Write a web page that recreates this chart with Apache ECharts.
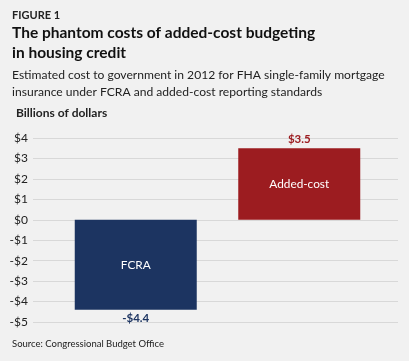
<!DOCTYPE html>
<html><head><meta charset="utf-8">
<script src="https://cdn.jsdelivr.net/npm/echarts@6/dist/echarts.min.js"></script>
<style>html,body{margin:0;padding:0;background:#f1f1f1;}#c{width:409px;height:361px;}</style>
</head><body><div id="c"></div>
<script>
var categories = ['FCRA', 'Added-cost'];
var values = [-4.4, 3.5];
var valueLabels = ['-$4.4', '$3.5'];
var barColors = ['#1c3461', '#9c1c20'];
var yTicks = [-5, -4, -3, -2, -1, 0, 1, 2, 3, 4];

var FONT = 'Lato';
var chart = echarts.init(document.getElementById('c'));
function fmt(v){ return v < 0 ? '-$' + Math.abs(v) : '$' + v; }
chart.setOption({
  backgroundColor: '#f1f1f1',
  animation: false,
  textStyle: { fontFamily: FONT },
  title: [
    { text: 'FIGURE 1', left: 12, top: 10, padding: 0, textStyle: { fontFamily: FONT, fontSize: 11, fontWeight: 'bold', color: '#222' } },
    { text: 'The phantom costs of added-cost budgeting\nin housing credit', left: 12, top: 23, padding: 0,
      textStyle: { fontFamily: FONT, fontSize: 15.5, fontWeight: 'bold', color: '#111', lineHeight: 20 } },
    { text: 'Estimated cost to government in 2012 for FHA single-family mortgage\ninsurance under FCRA and added-cost reporting standards', left: 12, top: 67, padding: 0,
      textStyle: { fontFamily: FONT, fontSize: 12.1, fontWeight: 'normal', color: '#222', lineHeight: 16.5 } },
    { text: 'Billions of dollars', left: 16, top: 107, padding: 0, textStyle: { fontFamily: FONT, fontSize: 12, fontWeight: 'bold', color: '#222' } },
    { text: 'Source: Congressional Budget Office', left: 12, top: 339, padding: 0, textStyle: { fontFamily: FONT, fontSize: 9.5, fontWeight: 'normal', color: '#222' } }
  ],
  grid: [
    { left: 33, right: 11, top: 138, bottom: 39 },
    { left: 54, right: 28, top: 138, bottom: 39 }
  ],
  xAxis: [
    { gridIndex: 0, type: 'category', data: categories, show: false },
    { gridIndex: 1, type: 'category', data: categories, show: false }
  ],
  yAxis: [
    { gridIndex: 0, type: 'value', min: -5, max: 4, interval: 1,
      axisLine: { show: false }, axisTick: { show: false },
      splitLine: { lineStyle: { color: '#d8d8d8', width: 1 } },
      axisLabel: { formatter: fmt, color: '#222', fontSize: 12, margin: 5, fontFamily: FONT } },
    { gridIndex: 1, type: 'value', min: -5, max: 4, interval: 1, show: false, splitLine: { show: false } }
  ],
  series: [{
    type: 'bar', xAxisIndex: 1, yAxisIndex: 1, barWidth: 122,
    data: values.map(function(v, i){ return { value: v, itemStyle: { color: barColors[i] } }; }),
    label: { show: true, position: 'inside', color: '#fff', fontSize: 11.8, fontFamily: FONT,
      formatter: function(p){ return categories[p.dataIndex]; } },
    z: 3
  }, {
    type: 'bar', xAxisIndex: 1, yAxisIndex: 1, barWidth: 122, barGap: '-100%',
    data: values.map(function(v, i){ return { value: v, itemStyle: { color: 'rgba(0,0,0,0)' },
      label: { color: barColors[i], position: v < 0 ? 'bottom' : 'top' } }; }),
    label: { show: true, distance: 3, fontSize: 11.5, fontWeight: 'bold', fontFamily: FONT,
      formatter: function(p){ return valueLabels[p.dataIndex]; } },
    z: 2
  }]
});
</script></body></html>
